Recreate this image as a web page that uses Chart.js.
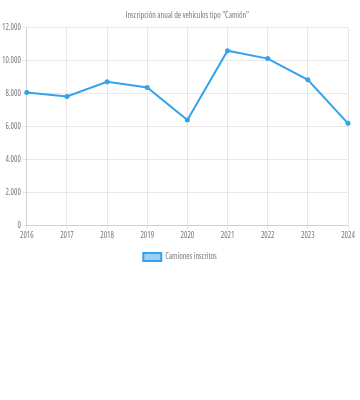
<!DOCTYPE html>
<html>
<head>
<meta charset="utf-8">
<script src="https://cdn.jsdelivr.net/npm/chart.js@4"></script>
<style>
  body { margin: 0; background: #fff; }
  #wrap { width: 360px; height: 271px; position: relative; }
</style>
</head>
<body>
<div id="wrap"><canvas id="my-chart"></canvas></div>
<script>
'use strict';

// ******GLOBALS******
let years = ['2016', '2017', '2018', '2019', '2020', '2021', '2022', '2023', '2024'];
let camiones = [8060, 7820, 8710, 8370, 6390, 10600, 10120, 8830, 6190];
let yTicks = [0, 2000, 4000, 6000, 8000, 10000, 12000];

function formatMiles(v) {
  return String(v).replace(/\B(?=(\d{3})+(?!\d))/g, '.');
}

// narrow text: the weight slot carries the font-stretch keyword
Chart.defaults.font.family = '"Open Sans", sans-serif';
Chart.defaults.font.weight = 'condensed';
Chart.defaults.font.size = 8;
Chart.defaults.color = '#777';

let canvasElem = document.getElementById('my-chart').getContext('2d');

new Chart(canvasElem, {
  type: 'line',
  data: {
    labels: years,
    datasets: [{
      label: 'Camiones inscritos',
      data: camiones,
      borderColor: 'rgb(54, 162, 235)',
      backgroundColor: 'rgba(54, 162, 235, 0.5)',
      borderWidth: 2,
      pointRadius: 1.5,
      pointBackgroundColor: 'rgb(54, 162, 235)',
      tension: 0
    }]
  },
  options: {
    responsive: true,
    maintainAspectRatio: false,
    animation: false,
    plugins: {
      title: {
        display: true,
        fullSize: false,
        text: 'Inscripción anual de vehículos tipo "Camión"',
        font: { size: 8, weight: 'condensed' },
        padding: { top: 11, bottom: 7 }
      },
      legend: {
        position: 'bottom',
        labels: { boxWidth: 18, boxHeight: 8 }
      }
    },
    scales: {
      x: {
        grid: { color: '#e8e8e8', tickLength: 4 },
        ticks: { padding: 2 },
        afterFit: function (axis) {
          axis.paddingRight = 12;
        }
      },
      y: {
        min: 0,
        max: 12000,
        afterBuildTicks: function (axis) {
          axis.ticks = yTicks.map(function (v) { return { value: v }; });
        },
        grid: { color: '#e8e8e8', tickLength: 4 },
        ticks: {
          padding: 2,
          callback: function (v) { return formatMiles(v); }
        }
      }
    }
  }
});
</script>
</body>
</html>
